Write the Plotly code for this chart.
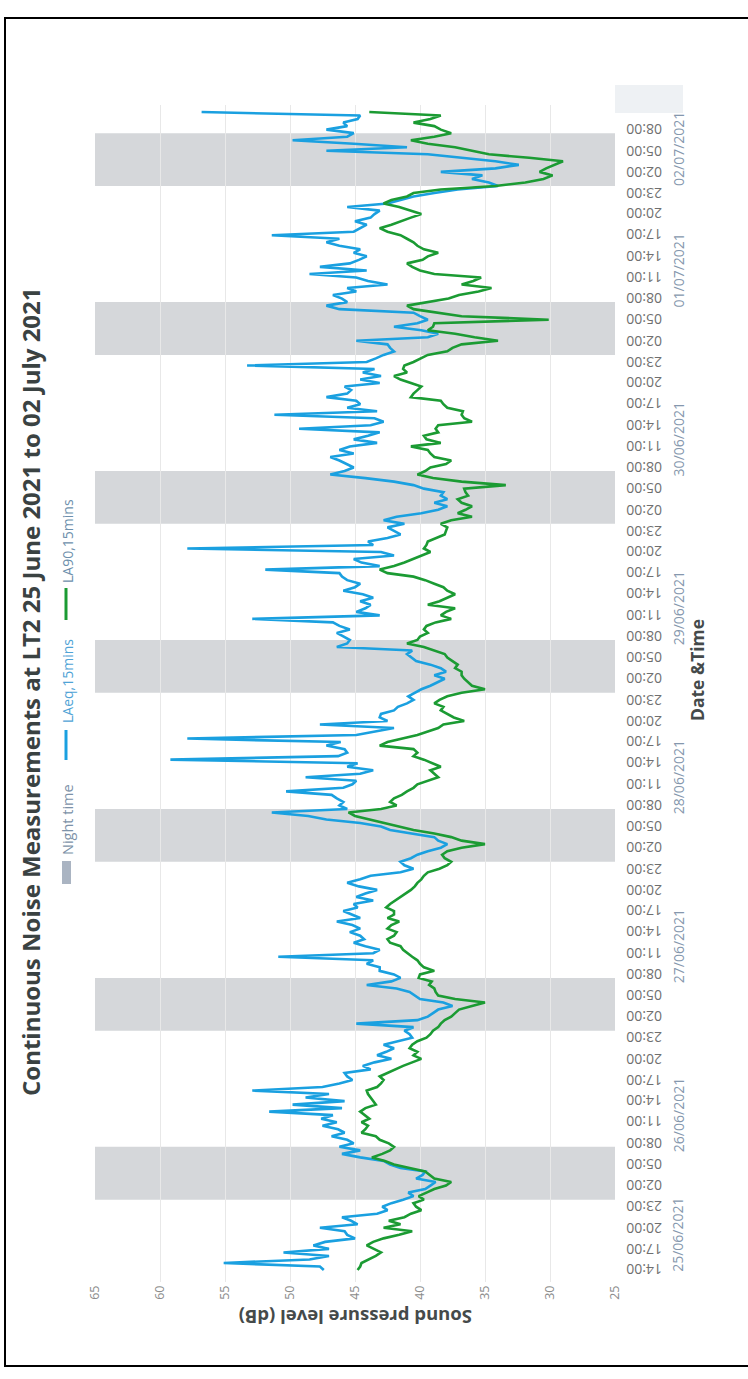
import pandas as pd
import plotly.graph_objects as go

# Half-hourly levels from 25/06/2021 14:00 (dB)
start = "2021-06-25 14:00"
laeq = [
    47.4, 47.7, 55.1, 48.5, 47.0, 50.5, 47.0, 48.2, 47.3, 45.0, 45.6, 45.8, 47.7, 44.8, 45.3, 46.0, 43.3, 42.5, 42.9, 42.2,
    41.3, 40.5, 40.9, 39.6, 39.2, 38.8, 40.3, 39.8, 39.6, 41.5, 42.3, 42.8, 44.6, 46.0, 44.6, 46.2, 45.1, 45.6, 46.8, 45.8,
    46.3, 47.5, 46.4, 47.6, 46.7, 51.6, 46.0, 49.8, 45.8, 48.8, 47.0, 52.9, 47.5, 46.2, 45.2, 45.6, 45.8, 43.8, 44.4, 43.5,
    42.2, 43.3, 42.6, 42.0, 42.8, 41.6, 40.6, 40.8, 41.2, 40.5, 44.9, 40.2, 39.4, 39.0, 38.6, 37.5, 38.2, 40.0, 40.4, 40.8,
    41.8, 44.1, 42.2, 41.5, 42.0, 43.1, 43.1, 44.1, 43.6, 50.9, 43.6, 43.1, 44.2, 45.1, 44.3, 44.6, 45.4, 44.6, 45.2, 46.4,
    44.6, 45.3, 45.9, 44.8, 45.1, 43.6, 44.9, 44.2, 43.3, 44.7, 45.6, 44.6, 43.8, 41.5, 40.5, 41.2, 41.5, 40.7, 40.2, 39.4,
    38.4, 37.9, 38.6, 38.9, 40.7, 42.3, 43.0, 44.6, 47.2, 48.6, 51.4, 45.6, 46.2, 45.9, 46.4, 46.8, 50.3, 45.9, 45.2, 44.9,
    48.8, 44.6, 43.6, 45.6, 44.8, 59.2, 46.3, 45.6, 45.8, 47.2, 46.1, 57.9, 44.9, 43.5, 42.0, 47.7, 42.5, 43.1, 43.0, 42.0,
    41.7, 41.0, 40.5, 40.9, 40.4, 39.9, 39.2, 38.6, 38.1, 38.9, 38.0, 38.4, 39.2, 40.3, 40.7, 41.0, 40.6, 46.4, 45.6, 45.4,
    45.9, 46.4, 45.4, 46.2, 46.7, 52.9, 43.1, 44.9, 44.2, 43.8, 44.6, 43.6, 44.4, 45.9, 45.0, 44.6, 45.6, 46.0, 46.2, 51.9,
    43.1, 44.5, 45.1, 42.0, 43.0, 57.9, 43.6, 44.0, 42.5, 41.5, 42.0, 42.5, 41.2, 42.8, 41.8, 39.9, 38.6, 37.9, 38.9, 37.9,
    38.4, 38.2, 39.7, 40.5, 42.0, 44.2, 46.9, 45.8, 45.1, 45.6, 46.2, 46.9, 45.1, 46.2, 45.4, 43.3, 45.1, 44.0, 43.1, 49.3,
    43.8, 42.8, 43.5, 51.2, 43.3, 45.6, 44.6, 44.9, 47.2, 45.6, 45.3, 45.8, 43.1, 44.6, 43.0, 44.4, 43.5, 53.3, 44.1, 43.4,
    42.8, 42.0, 42.3, 42.5, 44.9, 39.4, 38.6, 39.9, 42.0, 40.2, 39.4, 40.0, 40.5, 46.2, 47.2, 45.6, 46.0, 46.7, 44.9, 45.6,
    42.5, 44.0, 44.9, 48.5, 44.1, 47.7, 45.4, 44.7, 44.1, 45.1, 44.6, 46.2, 47.2, 46.2, 51.4, 45.1, 44.6, 44.1, 45.0, 43.8,
    43.5, 43.1, 45.6, 42.5, 41.5, 40.5, 38.9, 37.1, 34.0, 34.7, 36.0, 35.2, 38.4, 34.2, 32.4, 34.2, 36.8, 39.4, 47.2, 41.0,
    45.1, 49.8, 45.6, 45.1, 47.2, 45.6, 45.9, 44.8, 44.6, 56.8,
]
la90 = [
    44.8, 44.6, 44.5, 43.9, 43.4, 43.0, 43.5, 44.1, 43.6, 42.8, 41.6, 40.6, 42.8, 41.5, 42.4, 41.2, 40.7, 39.9, 40.3, 40.5,
    39.7, 40.1, 39.5, 38.9, 38.0, 37.6, 38.9, 39.3, 39.6, 40.8, 42.0, 42.7, 43.7, 42.9, 42.3, 42.0, 42.4, 43.1, 43.4, 44.5,
    44.2, 44.0, 44.5, 43.9, 44.3, 44.6, 44.2, 43.4, 43.6, 43.8, 44.0, 44.1, 43.3, 43.0, 42.8, 43.1, 42.5, 42.0, 41.3, 40.6,
    39.9, 40.5, 40.2, 40.8, 40.6, 40.2, 39.5, 39.2, 39.0, 38.6, 38.4, 38.1, 37.6, 37.3, 37.0, 36.0, 35.0, 37.3, 38.6, 38.8,
    38.9, 39.3, 39.1, 40.1, 40.0, 38.9, 39.7, 40.0, 40.2, 40.6, 41.0, 41.3, 41.5, 42.3, 42.5, 42.0, 41.8, 42.5, 42.2, 41.6,
    42.5, 42.0, 42.0, 42.6, 42.3, 41.9, 41.5, 41.0, 40.7, 40.4, 40.2, 39.9, 39.7, 39.4, 38.5, 37.9, 37.6, 38.1, 38.3, 37.9,
    36.8, 35.0, 36.8, 37.6, 38.9, 40.5, 41.6, 42.8, 43.8, 45.0, 45.5, 43.0, 41.8, 42.3, 42.0, 41.4, 41.0, 40.5, 40.2, 39.4,
    38.6, 38.9, 39.2, 38.4, 39.0, 39.7, 40.5, 40.2, 40.5, 43.1, 42.5, 41.4, 40.2, 39.4, 38.6, 38.2, 36.6, 37.4, 37.9, 38.4,
    38.2, 38.9, 38.5, 37.9, 36.8, 35.0, 36.0, 36.3, 36.6, 36.8, 36.8, 37.3, 37.1, 37.5, 37.9, 38.1, 38.9, 39.7, 41.0, 40.2,
    40.0, 39.4, 39.7, 39.5, 38.8, 37.6, 38.4, 38.0, 37.3, 39.4, 38.5, 37.9, 37.3, 37.9, 38.2, 38.9, 39.6, 40.5, 42.5, 43.1,
    42.0, 41.2, 40.5, 39.8, 39.2, 39.7, 39.5, 39.4, 38.8, 38.1, 38.0, 37.9, 38.4, 37.6, 36.0, 37.1, 36.5, 36.0, 36.8, 37.1,
    36.3, 36.5, 36.6, 33.4, 36.8, 39.0, 40.2, 39.6, 39.2, 38.0, 37.6, 38.9, 39.2, 39.4, 40.7, 38.4, 39.5, 39.7, 38.6, 38.8,
    38.6, 36.0, 36.6, 36.8, 36.7, 37.9, 38.2, 38.4, 40.7, 40.5, 40.2, 39.9, 40.7, 41.5, 42.0, 41.0, 41.3, 41.2, 40.5, 40.0,
    39.4, 37.9, 37.5, 36.8, 34.0, 35.8, 37.3, 39.4, 39.0, 38.9, 30.1, 36.8, 38.5, 40.5, 41.0, 39.4, 37.8, 37.0, 35.5, 34.5,
    36.8, 35.9, 35.3, 38.9, 40.0, 40.6, 41.0, 39.8, 39.4, 38.6, 39.7, 40.2, 40.5, 41.0, 41.5, 42.5, 43.1, 42.2, 41.5, 40.7,
    39.9, 40.7, 41.6, 42.8, 42.2, 41.0, 40.5, 38.4, 34.2, 31.9, 30.5, 29.8, 30.8, 30.3, 29.6, 29.0, 31.6, 34.7, 36.0, 37.3,
    39.4, 40.7, 38.9, 37.6, 38.4, 38.9, 40.5, 39.2, 38.4, 43.9,
]

night_start = ["2021-06-26 00:00", "2021-06-27 00:00", "2021-06-28 00:00", "2021-06-29 00:00",
               "2021-06-30 00:00", "2021-07-01 00:00", "2021-07-02 00:00"]
night_end = ["2021-06-26 07:30", "2021-06-27 07:30", "2021-06-28 07:30", "2021-06-29 07:30",
             "2021-06-30 07:30", "2021-07-01 07:30", "2021-07-02 07:30"]

day_labels = ["25/06/2021", "26/06/2021", "27/06/2021", "28/06/2021",
              "29/06/2021", "30/06/2021", "01/07/2021", "02/07/2021"]
db_ticks = [65, 60, 55, 50, 45, 40, 35, 30, 25]

times = pd.date_range(start, periods=len(laeq), freq="30min")
time_ticks = pd.date_range(start, "2021-07-02 08:00", freq="3h")
time_labels = [t.strftime("%H:%M") for t in time_ticks]

# page geometry (the whole chart is laid out turned a quarter-turn)
W, H = 748, 1379
L, R, T, B = 95, 615, 105, 1282


def px(x):
    return (x - L) / (R - L)


def py(y):
    return (B - y) / (B - T)


BLUE = "#1aa0e0"
GREEN = "#1b9b33"
FONT = "Open Sans"

fig = go.Figure()
fig.add_trace(go.Scatter(x=laeq, y=times, mode="lines", name="LAeq,15mins",
                         line=dict(color=BLUE, width=2.6)))
fig.add_trace(go.Scatter(x=la90, y=times, mode="lines", name="LA90,15mins",
                         line=dict(color=GREEN, width=2.6)))

for s, e in zip(night_start, night_end):
    fig.add_shape(type="rect", xref="paper", yref="y", x0=0, x1=1, y0=s, y1=e,
                  fillcolor="#d5d7da", line_width=0, layer="below")

t0 = pd.Timestamp(start)
fig.update_layout(
    width=W, height=H,
    margin=dict(l=L, r=W - R, t=T, b=H - B, autoexpand=False),
    plot_bgcolor="white", paper_bgcolor="white",
    showlegend=False,
    font=dict(family=FONT, color="#777777"),
)
fig.update_xaxes(range=[65, 25], tickvals=db_ticks, tickangle=-90, ticks="",
                 showgrid=True, gridcolor="#e8e8e8", gridwidth=1,
                 zeroline=False, showline=False,
                 tickfont=dict(family=FONT, size=12.5, color="#8c8c8c"))
fig.update_yaxes(range=[t0 - pd.Timedelta(hours=1.7), t0 + pd.Timedelta(hours=165.5)],
                 showgrid=False, zeroline=False, showline=False,
                 showticklabels=False, ticks="")

# hour labels along the time axis
for t, lab in zip(time_ticks, time_labels):
    fig.add_annotation(xref="paper", yref="y", x=px(624), y=t, text=lab,
                       textangle=180, showarrow=False, xanchor="left", yanchor="middle",
                       font=dict(family=FONT, size=14, color="#6f6f6f"))

# day labels centred on each day's span of data
t_first, t_last = times[0], times[-1]
for d in day_labels:
    day = pd.to_datetime(d, format="%d/%m/%Y")
    a = max(day, t_first)
    b = min(day + pd.Timedelta(days=1), t_last)
    fig.add_annotation(xref="paper", yref="y", x=px(678), y=a + (b - a) / 2, text=d,
                       textangle=-90, showarrow=False, xanchor="center", yanchor="middle",
                       font=dict(family=FONT, size=14, color="#8597ad"))

# titles
fig.add_annotation(xref="paper", yref="paper", x=px(30), y=py(692),
                   text="<b>Continuous Noise Measurements at LT2 25 June 2021 to 02 July 2021</b>",
                   textangle=-90, showarrow=False, xanchor="center", yanchor="middle",
                   font=dict(family=FONT, size=24, color="#3a4242"))
fig.add_annotation(xref="paper", yref="paper", x=px(697), y=py(670),
                   text="<b>Date &amp;Time</b>", textangle=-90, showarrow=False,
                   xanchor="center", yanchor="middle",
                   font=dict(family=FONT, size=17.5, color="#454a4a"))
fig.add_annotation(xref="paper", yref="paper", x=px(356), y=py(1318),
                   text="<b>Sound pressure level (dB)</b>", textangle=180, showarrow=False,
                   xanchor="center", yanchor="middle",
                   font=dict(family=FONT, size=18.5, color="#454a4a"))

# legend
fig.add_shape(type="rect", xref="paper", yref="paper", x0=px(62), x1=px(71),
              y0=py(884), y1=py(861), fillcolor="#aab4c2", line_width=0)
fig.add_annotation(xref="paper", yref="paper", x=px(67), y=py(820), text="Night time",
                   textangle=-90, showarrow=False, xanchor="center", yanchor="middle",
                   font=dict(family=FONT, size=14.5, color="#7d92a8"))
fig.add_shape(type="line", xref="paper", yref="paper", x0=px(66), x1=px(66),
              y0=py(760), y1=py(730), line=dict(color=BLUE, width=3))
fig.add_annotation(xref="paper", yref="paper", x=px(67), y=py(681), text="LAeq,15mins",
                   textangle=-90, showarrow=False, xanchor="center", yanchor="middle",
                   font=dict(family=FONT, size=14, color="#4fa3d6"))
fig.add_shape(type="line", xref="paper", yref="paper", x0=px(66), x1=px(66),
              y0=py(620), y1=py(588), line=dict(color=GREEN, width=3))
fig.add_annotation(xref="paper", yref="paper", x=px(67), y=py(541), text="LA90,15mins",
                   textangle=-90, showarrow=False, xanchor="center", yanchor="middle",
                   font=dict(family=FONT, size=14, color="#6d8fac"))

# small panel at the top right and the outer frame
fig.add_shape(type="rect", xref="paper", yref="paper", x0=px(615), x1=px(683),
              y0=py(113), y1=py(85), fillcolor="#eef1f4", line_width=0)
fig.add_shape(type="rect", xref="paper", yref="paper", x0=px(5), x1=px(752),
              y0=py(1366), y1=py(18), line=dict(color="black", width=2),
              fillcolor="rgba(0,0,0,0)")

fig.write_html("out.html")
